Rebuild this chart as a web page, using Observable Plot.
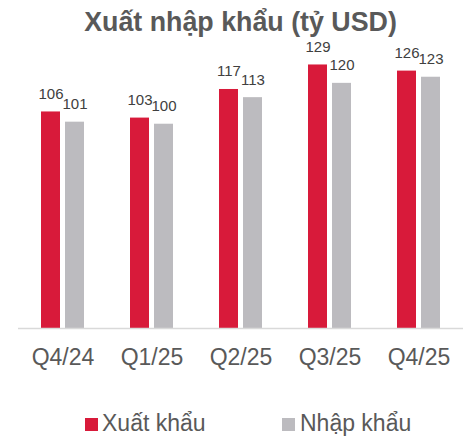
<!DOCTYPE html>
<html>
<head>
<meta charset="utf-8">
<script src="https://cdn.jsdelivr.net/npm/d3@7"></script>
<script src="https://cdn.jsdelivr.net/npm/@observablehq/plot@0.6"></script>
<style>
  html, body { margin: 0; padding: 0; background: #fff; }
  body { position: relative; width: 472px; height: 439px; overflow: hidden; font-family: "Liberation Sans", Arial, sans-serif; }
  #title { position: absolute; left: 9px; top: 7px; width: 463px; text-align: center; font-weight: bold; font-size: 26.8px; color: #595959; white-space: nowrap; z-index: 2; }
  #chart { position: absolute; left: 0; top: 20px; z-index: 1; }
  .legend-item { position: absolute; top: 410px; font-size: 23px; color: #595959; white-space: nowrap; }
  .swatch { position: absolute; width: 13px; height: 13px; top: 418px; }
</style>
</head>
<body>
<div id="title">Xuất nhập khẩu (tỷ USD)</div>
<div id="chart"></div>
<div id="legend"></div>
<script>
const quarters = ["Q4/24", "Q1/25", "Q2/25", "Q3/25", "Q4/25"];
const exportsVals = [106, 103, 117, 129, 126];
const importsVals = [101, 100, 113, 120, 123];
const series = ["Xuất khẩu", "Nhập khẩu"];
const colors = ["#D81A3A", "#BCBBBF"];

const data = quarters.flatMap((q, i) => [
  {q, s: series[0], v: exportsVals[i]},
  {q, s: series[1], v: importsVals[i]}
]);

const chart = Plot.plot({
  width: 472,
  height: 355,
  marginLeft: 17,
  marginRight: 9,
  marginTop: 22,
  marginBottom: 47,
  style: {fontFamily: "'Liberation Sans', Arial, sans-serif", fontSize: "23px", color: "#595959", background: "transparent"},
  fx: {domain: quarters, padding: 0, axis: "bottom", label: null, tickSize: 0, tickPadding: 20},
  x: {domain: series, axis: null, paddingInner: 0.2, paddingOuter: 0.885},
  y: {domain: [0, 140], axis: null},
  color: {domain: series, range: colors},
  marks: [
    Plot.barY(data, {fx: "q", x: "s", y: "v", fill: "s"}),
    Plot.ruleY([0], {stroke: "#D9D9D9", strokeWidth: 1.5}),
    Plot.text(data, {fx: "q", x: "s", y: "v", text: d => String(d.v), lineAnchor: "bottom", dy: -13, fontSize: 15, fill: "#404040"})
  ]
});
document.getElementById("chart").appendChild(chart);

// legend
const legend = document.getElementById("legend");
const swatchX = [85, 282];
const textX = [102, 300];
series.forEach((s, i) => {
  const sw = document.createElement("div");
  sw.className = "swatch";
  sw.style.left = swatchX[i] + "px";
  sw.style.background = colors[i];
  legend.appendChild(sw);
  const t = document.createElement("div");
  t.className = "legend-item";
  t.style.left = textX[i] + "px";
  t.textContent = s;
  legend.appendChild(t);
});
</script>
</body>
</html>
